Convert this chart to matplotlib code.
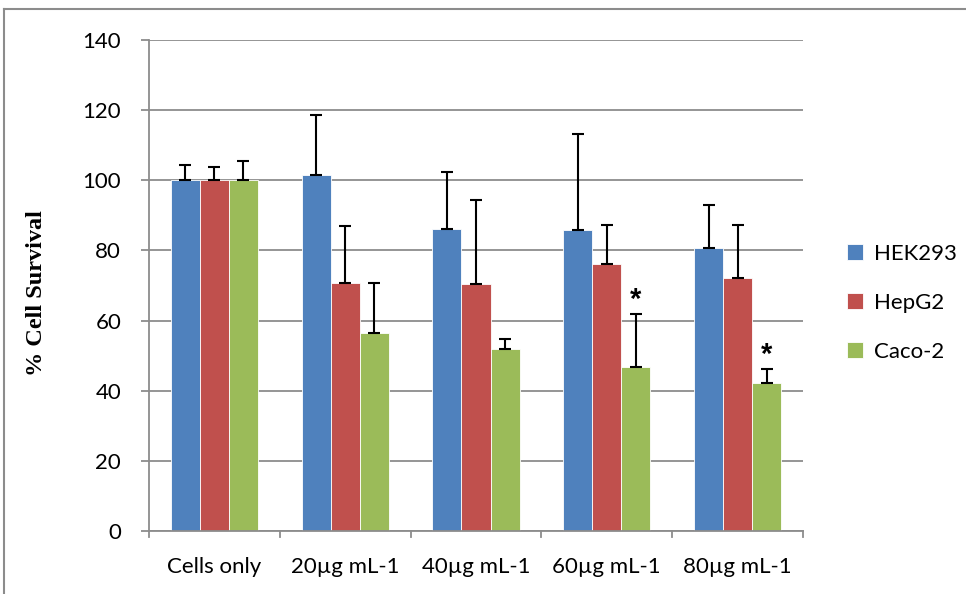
import matplotlib
matplotlib.use("Agg")
import matplotlib.pyplot as plt
import numpy as np
from matplotlib.lines import Line2D

categories = ["Cells only", "20µg mL-1", "40µg mL-1", "60µg mL-1", "80µg mL-1"]
series = ["HEK293", "HepG2", "Caco-2"]
hek293 = [100.0, 101.5, 86.2, 85.8, 80.7]
hepg2 = [100.0, 70.8, 70.4, 76.1, 72.1]
caco2 = [100.0, 56.5, 51.8, 46.7, 42.1]
hek293_err = [4.5, 17.0, 16.1, 27.4, 12.2]
hepg2_err = [3.8, 16.2, 24.1, 11.2, 15.1]
caco2_err = [5.5, 14.1, 3.0, 15.2, 4.1]
significant = [False, False, False, True, True]  # Caco-2 marked with *

colors = ["#4F81BD", "#C0504D", "#9BBB59"]
values = [hek293, hepg2, caco2]
errors = [hek293_err, hepg2_err, caco2_err]
grid_col = "#8C8C8C"
font = "Lato"

fig = plt.figure(figsize=(9.66, 5.94), dpi=100)
ax = fig.add_axes([149 / 966, 1 - 531 / 594, 654 / 966, 491 / 594])

x = np.arange(len(categories))
bw = 0.222
offsets = [-bw, 0, bw]
for vals, errs, col, off, name in zip(values, errors, colors, offsets, series):
    ax.bar(x + off, vals, width=bw, color=col, edgecolor="white", linewidth=0.6,
           label=name, zorder=2)
    ax.errorbar(x + off, vals, yerr=[np.zeros(len(vals)), errs], fmt="none",
                ecolor="black", elinewidth=1.5, capsize=4.5, capthick=1.5, zorder=3)

for i, flag in enumerate(significant):
    if flag:
        ax.text(x[i] + bw, caco2[i] + caco2_err[i] + 4.0, "*", ha="center",
                va="center", fontsize=21, fontweight="bold",
                family="Liberation Sans")

ax.set_xlim(-0.5, len(categories) - 0.5)
ax.set_ylim(0, 140)
ax.set_yticks(np.arange(0, 141, 20))
ax.yaxis.grid(True, color=grid_col, linewidth=1.3, zorder=0)
ax.set_axisbelow(True)

ax.set_xticks(x)
ax.set_xticklabels(categories, family=font, fontsize=16)
ax.tick_params(axis="x", length=0, pad=19)
for b in np.arange(-0.5, len(categories), 1.0):
    ax.plot([b, b], [0, -1.6], color=grid_col, linewidth=1.3, clip_on=False)
ax.tick_params(axis="y", length=6, color=grid_col, width=1.3, labelsize=16,
               pad=14)
for lab in ax.get_yticklabels():
    lab.set_family(font)

for s in ["top", "right"]:
    ax.spines[s].set_visible(False)
for s in ["left", "bottom"]:
    ax.spines[s].set_color(grid_col)
    ax.spines[s].set_linewidth(1.3)

ax.set_ylabel("% Cell Survival", family="Liberation Serif", fontweight="bold",
              fontsize=17.5)
ax.yaxis.set_label_coords((47 - 149) / 654, (531 - 293) / 491)

fig.legend(loc="upper left", bbox_to_anchor=(827 / 966, 1 - 224 / 594),
           frameon=False, prop={"family": font, "size": 16},
           handlelength=0.7, handleheight=0.7, handletextpad=0.5,
           labelspacing=1.3)

# outer chart frame
fig.add_artist(Line2D([4 / 966, 4 / 966], [0, 1 - 9 / 594], transform=fig.transFigure,
                      color=grid_col, linewidth=1.5))
fig.add_artist(Line2D([4 / 966, 1], [1 - 9 / 594, 1 - 9 / 594], transform=fig.transFigure,
                      color=grid_col, linewidth=1.5))

fig.savefig("out.png", dpi=100)
